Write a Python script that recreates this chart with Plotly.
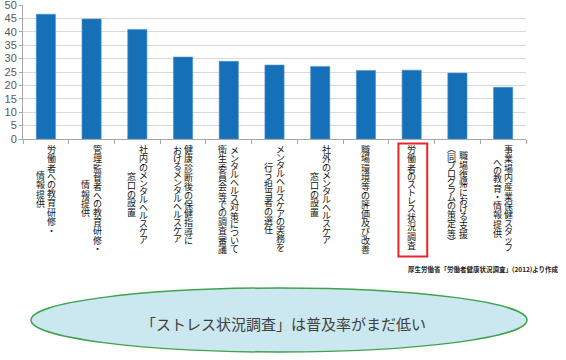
import plotly.graph_objects as go

# ---- data ----
categories = [
    "労働者への教育研修・情報提供",
    "管理監督者への教育研修・情報提供",
    "社内のメンタルヘルスケア窓口の設置",
    "健康診断後の保健指導におけるメンタルヘルスケア",
    "メンタルヘルス対策について衛生委員会等での調査審議",
    "メンタルヘルスケアの実務を行う担当者の選任",
    "社外のメンタルヘルスケア窓口の設置",
    "職場環境等の評価及び改善",
    "労働者のストレス状況調査",
    "職場復帰における支援（同プログラムの策定等）",
    "事業場内産業保健スタッフへの教育・情報提供",
]
values = [46.6, 44.8, 40.9, 30.6, 29.0, 27.6, 27.1, 25.6, 25.7, 24.6, 19.3]
label_columns = [
    ["労働者への教育研修・", "情報提供"],
    ["管理監督者への教育研修・", "情報提供"],
    ["社内のメンタルヘルスケア", "窓口の設置"],
    ["健康診断後の保健指導に", "おけるメンタルヘルスケア"],
    ["メンタルヘルス対策について", "衛生委員会等での調査審議"],
    ["メンタルヘルスケアの実務を", "行う担当者の選任"],
    ["社外のメンタルヘルスケア", "窓口の設置"],
    ["職場環境等の評価及び改善"],
    ["労働者のストレス状況調査"],
    ["職場復帰における支援", "（同プログラムの策定等）"],
    ["事業場内産業保健スタッフ", "への教育・情報提供"],
]
y_ticks = list(range(0, 51, 5))
highlight = "労働者のストレス状況調査"
source_note = "厚生労働省「労働者健康状況調査」(2012)より作成"
callout_text = "「ストレス状況調査」は普及率がまだ低い"

# ---- layout geometry ----
W, H = 566, 360
L, R, T, B = 23, 40, 5, 221
PW, PH = W - L - R, H - T - B
BOTTOM = T + PH  # pixel y of plot bottom


def px_x(p):
    return (p - L) / PW


def px_y(p):
    return (BOTTOM - p) / PH


JP = "Noto Sans CJK JP"
VERT = {"（": "︵", "）": "︶"}


def advance(ch):
    o = ord(ch)
    if 0x3040 <= o <= 0x30FF:
        return 8.0
    if ch in "（）":
        return 7.5
    return 9.3


fig = go.Figure(
    go.Bar(
        x=categories,
        y=values,
        marker=dict(color="#1570b8", line=dict(color="#4d93d1", width=0.6)),
        hoverinfo="x+y",
    )
)

annotations = []
top = 145.0
col_gap = 11.6
for cat, cols in zip(categories, label_columns):
    heights = [sum(advance(c) for c in col) for col in cols]
    block = max(heights)
    n = len(cols)
    for ci, col in enumerate(cols):
        xshift = (n - 1) / 2 * col_gap - ci * col_gap
        pos = top + (block - heights[ci]) / 2
        for ch in col:
            a = advance(ch)
            center = pos + a / 2
            pos += a
            annotations.append(dict(
                x=cat, xref="x", y=0, yref="paper",
                text=VERT.get(ch, ch), showarrow=False,
                xanchor="center", yanchor="middle", borderpad=0,
                xshift=xshift, yshift=-(center - BOTTOM),
                font=dict(family=JP, size=9, color="#111111"),
            ))

annotations.append(dict(
    x=px_x(561), xref="paper", y=px_y(269), yref="paper",
    text="<b>" + source_note + "</b>", showarrow=False,
    xanchor="right", yanchor="middle",
    font=dict(family=JP, size=6.5, color="#222222"),
))
annotations.append(dict(
    x=px_x(283), xref="paper", y=px_y(323), yref="paper",
    text=callout_text, showarrow=False,
    xanchor="center", yanchor="middle",
    font=dict(family=JP, size=15, color="#404040"),
))

hi = categories.index(highlight)
shapes = [
    dict(type="rect", xref="x", yref="paper",
         x0=hi - 0.29, x1=hi + 0.34, y0=px_y(256.5), y1=px_y(143.5),
         line=dict(color="#e8262a", width=2), fillcolor="rgba(0,0,0,0)"),
    dict(type="circle", xref="paper", yref="paper",
         x0=px_x(31), x1=px_x(527), y0=px_y(352), y1=px_y(288),
         line=dict(color="#3fa34d", width=1.5), fillcolor="#cbe7ef",
         layer="below"),
]

fig.update_layout(
    width=W, height=H,
    margin=dict(l=L, r=R, t=T, b=B, pad=0, autoexpand=False),
    paper_bgcolor="white", plot_bgcolor="white",
    bargap=0.58, showlegend=False,
    annotations=annotations, shapes=shapes,
    xaxis=dict(
        type="category", showticklabels=False, showgrid=False,
        showline=True, linecolor="#a6a6a6", linewidth=1, automargin=False,
        ticks="outside", tickson="boundaries", ticklen=4, tickcolor="#a6a6a6",
        fixedrange=True,
    ),
    yaxis=dict(
        range=[0, 50.02], tickvals=y_ticks, showgrid=True, gridcolor="#d9d9d9",
        gridwidth=1, zeroline=False, showline=True, linecolor="#a6a6a6",
        ticks="outside", ticklen=3, tickcolor="#a6a6a6", automargin=False,
        ticklabeloverflow="allow",
        tickfont=dict(family="Liberation Sans", size=11, color="#595959"),
        fixedrange=True,
    ),
)

fig.write_html(
    "out.html",
    config={"displayModeBar": False},
    post_script="document.body.style.margin='0';document.body.style.overflow='hidden';",
)
